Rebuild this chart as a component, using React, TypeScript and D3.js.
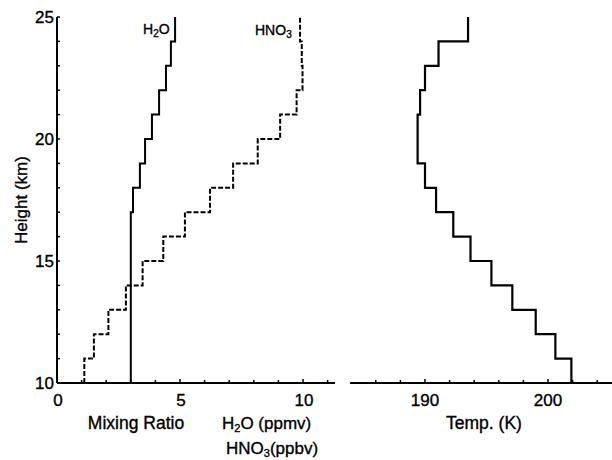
import React from "react";
import * as d3 from "d3";

// layer bottoms (km), each layer 1 km thick
const layerBase = [10, 11, 12, 13, 14, 15, 16, 17, 18, 19, 20, 21, 22, 23, 24];
const h2oPpmv = [3.0, 3.0, 3.0, 3.0, 3.0, 3.0, 3.0, 3.09, 3.37, 3.58, 3.86, 4.15, 4.43, 4.63, 4.8];
const hno3Ppbv = [1.11, 1.5, 2.09, 2.8, 3.48, 4.32, 5.2, 6.22, 7.16, 8.16, 9.07, 9.74, 9.98, 9.95, 9.88];
const tempK = [201.9, 200.6, 199.0, 197.1, 195.4, 193.7, 192.3, 190.9, 190.0, 189.4, 189.4, 189.6, 190.0, 191.1, 193.5];

const heightTicks = [10, 11, 12, 13, 14, 15, 16, 17, 18, 19, 20, 21, 22, 23, 24, 25];
const heightLabels = [10, 15, 20, 25];
const mixTicks = [1, 2, 3, 4, 5, 6, 7, 8, 9, 10, 11];
const mixLabels = [0, 5, 10];
const tempTicks = [186, 188, 190, 192, 194, 196, 198, 200, 202, 204, 206];
const tempLabels = [190, 200];

const W = 612;
const H = 460;
const FONT = "'Liberation Sans', Arial, sans-serif";

const y = d3.scaleLinear().domain([10, 25]).range([383, 17]);
const xMix = d3.scaleLinear().domain([0, 10]).range([57, 303]);
const xTemp = d3.scaleLinear().domain([190, 200]).range([425, 548]);

// build step profile: vertical segment across each layer
function stepPoints(vals: number[]): [number, number][] {
  const pts: [number, number][] = [];
  vals.forEach((v, i) => {
    pts.push([v, layerBase[i]]);
    pts.push([v, layerBase[i] + 1]);
  });
  return pts;
}

export default function App() {
  const mixLine = d3.line<[number, number]>().x((d) => xMix(d[0])).y((d) => y(d[1]));
  const tempLine = d3.line<[number, number]>().x((d) => xTemp(d[0])).y((d) => y(d[1]));

  const base = y(10);
  const axisStroke = { stroke: "#000", strokeWidth: 2, fill: "none" };
  // scanned type looks heavy, thicken slightly
  const txt = { stroke: "#000", strokeWidth: 0.35, fill: "#000" };

  return (
    <svg
      width={W}
      height={H}
      viewBox={`0 0 ${W} ${H}`}
      style={{ position: "absolute", left: 0, top: 0, background: "#fff" }}
      fontFamily={FONT}
    >
      <rect width={W} height={H} fill="#fff" />

      {/* y axis */}
      <line x1={xMix(0)} x2={xMix(0)} y1={y(25)} y2={base} {...axisStroke} />
      {heightTicks.map((t) => (
        <line key={t} x1={xMix(0)} x2={xMix(0) + 3} y1={y(t)} y2={y(t)} stroke="#000" strokeWidth={1.5} />
      ))}
      {heightLabels.map((t) => (
        <text key={t} x={xMix(0) - 3} y={y(t) + 6} textAnchor="end" fontSize={17} {...txt}>
          {t}
        </text>
      ))}
      <text
        transform={`translate(27,${y(17.5)}) rotate(-90)`}
        textAnchor="middle"
        fontSize={17}
        {...txt}
      >
        Height (km)
      </text>

      {/* mixing ratio axis */}
      <line x1={xMix(0)} x2={335} y1={base} y2={base} {...axisStroke} />
      {mixTicks.map((t) => (
        <line key={t} x1={xMix(t)} x2={xMix(t)} y1={base} y2={base - (t % 5 === 0 ? 4 : 3)} stroke="#000" strokeWidth={1.5} />
      ))}
      {mixLabels.map((t) => (
        <text key={t} x={xMix(t) + 1} y={406} textAnchor="middle" fontSize={17} {...txt}>
          {t}
        </text>
      ))}
      <text x={136} y={429} textAnchor="middle" fontSize={17.5} {...txt}>
        Mixing Ratio
      </text>
      <text x={222} y={429} fontSize={17} {...txt}>
        H<tspan fontSize={11} dy={3}>2</tspan>
        <tspan dy={-3}>O (ppmv)</tspan>
      </text>
      <text x={226} y={454} fontSize={17} {...txt}>
        HNO<tspan fontSize={11} dy={3}>3</tspan>
        <tspan dy={-3}>(ppbv)</tspan>
      </text>

      {/* temperature axis */}
      <line x1={350} x2={W} y1={base} y2={base} {...axisStroke} />
      {tempTicks.map((t) => (
        <line key={t} x1={xTemp(t)} x2={xTemp(t)} y1={base} y2={base - (t % 10 === 0 ? 4 : 3)} stroke="#000" strokeWidth={1.5} />
      ))}
      {tempLabels.map((t) => (
        <text key={t} x={xTemp(t)} y={406} textAnchor="middle" fontSize={17} {...txt}>
          {t}
        </text>
      ))}
      <text x={484} y={429} textAnchor="middle" fontSize={17.5} {...txt}>
        Temp. (K)
      </text>

      {/* profiles */}
      <path d={mixLine(stepPoints(h2oPpmv)) || ""} fill="none" stroke="#000" strokeWidth={2} />
      <path
        d={mixLine(stepPoints(hno3Ppbv)) || ""}
        fill="none"
        stroke="#000"
        strokeWidth={2}
        strokeDasharray="5,2"
      />
      <path d={tempLine(stepPoints(tempK)) || ""} fill="none" stroke="#000" strokeWidth={2.2} />

      {/* curve labels */}
      <text x={143} y={34} fontSize={14} {...txt}>
        H<tspan fontSize={10} dy={3}>2</tspan>
        <tspan dy={-3}>O</tspan>
      </text>
      <text x={255} y={35} fontSize={14} {...txt}>
        HNO<tspan fontSize={10} dy={3}>3</tspan>
      </text>
    </svg>
  );
}
